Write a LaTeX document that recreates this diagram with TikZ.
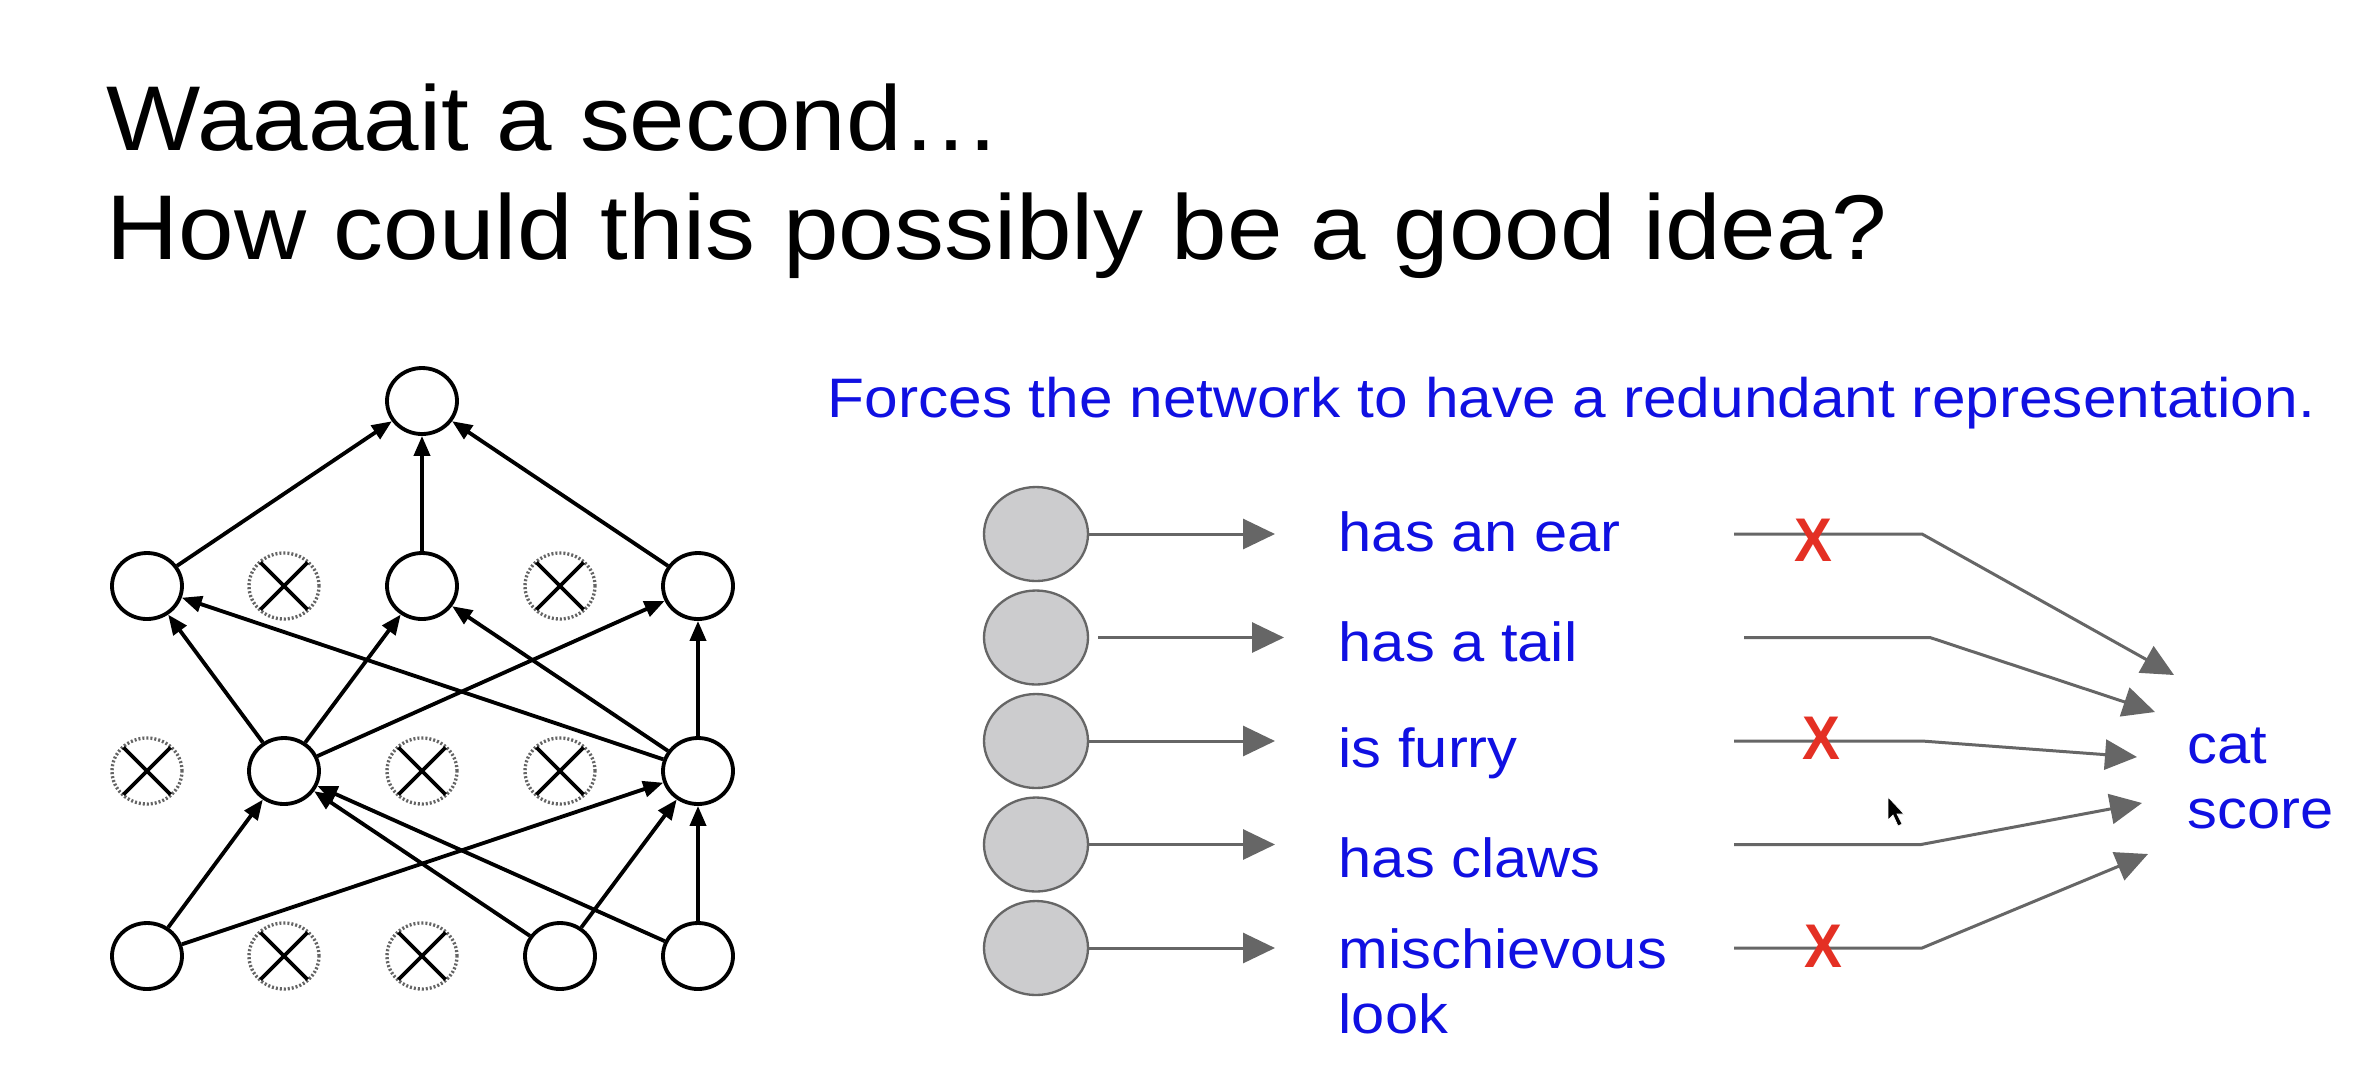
\documentclass[tikz,border=0pt]{standalone}
\usepackage{fontspec}
\setmainfont[FakeStretch=1.085]{Liberation Sans}
\newfontfamily\xfont[FakeStretch=0.92]{Liberation Sans}
\usetikzlibrary{shapes.geometric,arrows.meta}
\definecolor{lblue}{RGB}{16,16,226}
\definecolor{lgray}{RGB}{102,102,102}
\definecolor{cfill}{RGB}{204,204,206}
\definecolor{xred}{RGB}{228,48,36}
\definecolor{dotgray}{RGB}{100,100,100}
\tikzset{
  unit/.style={ellipse, draw=black, line width=1.15pt, minimum width=21pt, minimum height=19.8pt, inner sep=0pt},
  dropunit/.style={ellipse, draw=dotgray, line width=1pt, dash pattern=on 0.6pt off 0.6pt, minimum width=21pt, minimum height=19.8pt, inner sep=0pt},
  xline/.style={line width=1.15pt, black, shorten <=0.7pt, shorten >=0.7pt},
  net/.style={line width=1.15pt, -{Triangle[length=6pt,width=4.8pt]}},
  feat/.style={ellipse, draw=lgray, line width=0.7pt, fill=cfill, minimum width=31.2pt, minimum height=28.2pt, inner sep=0pt},
  garrow/.style={draw=lgray, line width=0.9pt, -{Triangle[length=9.6pt,width=9pt]}},
  lbl/.style={text=lblue, font=\fontsize{16.5}{19.5}\selectfont, inner sep=0pt, anchor=base west, align=left},
  ttl/.style={text=black, font=\fontsize{27.6}{33}\selectfont, inner sep=0pt, anchor=base west},
  redx/.style={text=xred, font=\xfont\fontsize{18.5}{20}\selectfont\bfseries, inner sep=0pt}
}
\begin{document}
\begin{tikzpicture}[x=0.3pt,y=-0.3pt]
\path[use as bounding box, fill=white] (0,0) rectangle (2380,1076);
% titles
\node[ttl] (title1) at (106,150) {Waaaait a second…};
\node[ttl] (title2) at (106,259) {How could this possibly be a good idea?};
\node[lbl, font=\fontsize{16.7}{19.5}\selectfont] (sub) at (827,417) {Forces the network to have a redundant representation.};
% network
\node[unit] (t) at (422,401) {};
\node[unit] (u21) at (147,586) {};
\node[dropunit] (x22) at (284,586) {};
\node[unit] (u23) at (422,586) {};
\node[dropunit] (x24) at (560,586) {};
\node[unit] (u25) at (698,586) {};
\node[dropunit] (x11) at (147,771) {};
\node[unit] (u12) at (284,771) {};
\node[dropunit] (x13) at (422,771) {};
\node[dropunit] (x14) at (560,771) {};
\node[unit] (u15) at (698,771) {};
\node[unit] (u01) at (147,956) {};
\node[dropunit] (x02) at (284,956) {};
\node[dropunit] (x03) at (422,956) {};
\node[unit] (u04) at (560,956) {};
\node[unit] (u05) at (698,956) {};
\foreach \n in {x22,x24,x11,x13,x14,x02,x03}{
  \draw[xline] (\n.45) -- (\n.225);
  \draw[xline] (\n.135) -- (\n.315);
}
\draw[net] (u21) -- (t);
\draw[net] (u23) -- (t);
\draw[net] (u25) -- (t);
\draw[net] (u12) -- (u21);
\draw[net] (u12) -- (u23);
\draw[net] (u12) -- (u25);
\draw[net] (u15) -- (u21);
\draw[net] (u15) -- (u23);
\draw[net] (u15) -- (u25);
\draw[net] (u01) -- (u12);
\draw[net] (u01) -- (u15);
\draw[net] (u04) -- (u12);
\draw[net] (u04) -- (u15);
\draw[net] (u05) -- (u12);
\draw[net] (u05) -- (u15);
% features
\node[feat] (f1) at (1036,534) {};
\node[feat] (f2) at (1036,637.5) {};
\node[feat] (f3) at (1036,741) {};
\node[feat] (f4) at (1036,844.5) {};
\node[feat] (f5) at (1036,948) {};
\coordinate (p1) at (1275,534);
\coordinate (p2) at (1284,637.5);
\coordinate (p3) at (1275,741);
\coordinate (p4) at (1275,844.5);
\coordinate (p5) at (1275,948);
\draw[garrow] (f1) -- (p1);
\draw[garrow, shorten <=2.7pt] (f2) -- (p2);
\draw[garrow] (f3) -- (p3);
\draw[garrow] (f4) -- (p4);
\draw[garrow] (f5) -- (p5);
\node[lbl] (l1) at (1338,551) {has an ear};
\node[lbl] (l2) at (1338,661) {has a tail};
\node[lbl] (l3) at (1338,767) {is furry};
\node[lbl] (l4) at (1338,877) {has claws};
\node[lbl] (l5) at (1338,1033) {mischievous\\look};
% right connectors
\coordinate (s1) at (1734,534);   \coordinate (b1) at (1922,534);   \coordinate (e1) at (2174,675);
\coordinate (s2) at (1744,637.5); \coordinate (b2) at (1930,637.5); \coordinate (e2) at (2155,712);
\coordinate (s3) at (1734,741);   \coordinate (b3) at (1922,741);   \coordinate (e3) at (2137,757);
\coordinate (s4) at (1734,844.5); \coordinate (b4) at (1921,844.5); \coordinate (e4) at (2142,803);
\coordinate (s5) at (1734,948);   \coordinate (b5) at (1922,948);   \coordinate (e5) at (2148,854);
\foreach \i in {1,...,5}{
  \draw[garrow] (s\i) -- (b\i) -- (e\i);
}
\node[redx] (r1) at (1813,540) {X};
\node[redx] (r3) at (1821,738) {X};
\node[redx] (r5) at (1823,946) {X};
\node[lbl] (cat) at (2187,828) {cat\\score};
% cursor
\fill[black, draw=white, line width=0.2pt] (1888,797) -- (1888,820) -- (1893,815) -- (1898,826) -- (1902,824) -- (1897,814) -- (1904,814) -- cycle;
\end{tikzpicture}
\end{document}
